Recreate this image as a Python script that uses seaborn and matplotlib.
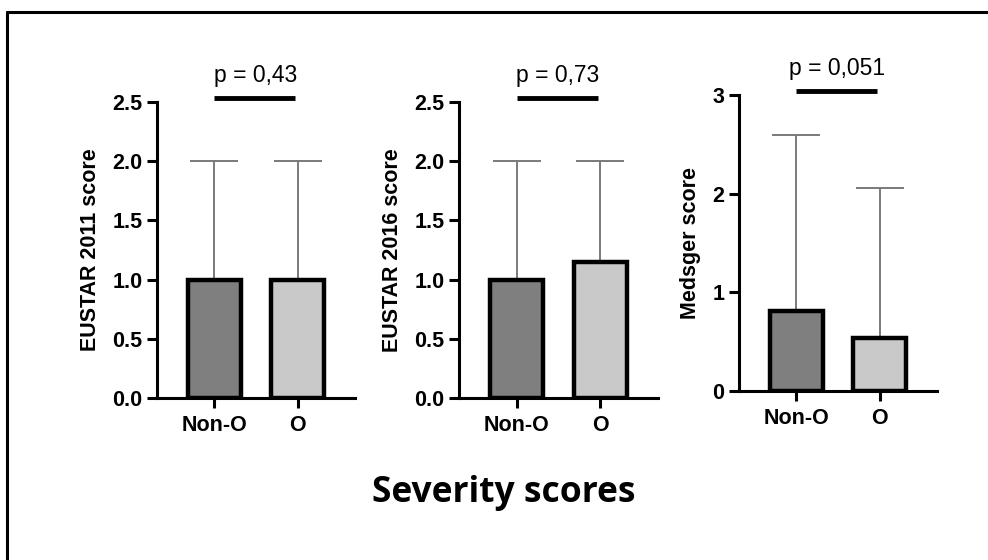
import pandas as pd
import matplotlib.pyplot as plt
import seaborn as sns
from matplotlib.lines import Line2D

# data
groups = ['Non-O', 'O']
eustar2011_mean = [1.0, 1.0]
eustar2011_err = [1.0, 1.0]
eustar2016_mean = [1.0, 1.15]
eustar2016_err = [1.0, 0.85]
medsger_mean = [0.81, 0.54]
medsger_err = [1.78, 1.52]
ylabels = ['EUSTAR 2011 score', 'EUSTAR 2016 score', 'Medsger score']
pvalues = ['p = 0,43', 'p = 0,73', 'p = 0,051']
ymax = [2.5, 2.5, 3]
yticks = [[0, 0.5, 1.0, 1.5, 2.0, 2.5], [0, 0.5, 1.0, 1.5, 2.0, 2.5], [0, 1, 2, 3]]
yticklabels = [['0.0', '0.5', '1.0', '1.5', '2.0', '2.5'],
               ['0.0', '0.5', '1.0', '1.5', '2.0', '2.5'],
               ['0', '1', '2', '3']]

means = [eustar2011_mean, eustar2016_mean, medsger_mean]
errs = [eustar2011_err, eustar2016_err, medsger_err]

sns.set_style('white')
plt.rcParams['font.family'] = ['Liberation Sans', 'DejaVu Sans']
plt.rcParams['text.color'] = 'black'
plt.rcParams['axes.labelcolor'] = 'black'

fig = plt.figure(figsize=(9.88, 5.6), dpi=100)

# axes positions (left, bottom, width, height) in figure fraction
positions = [
    [157 / 988, 1 - 398 / 560, 198 / 988, 296 / 560],
    [459 / 988, 1 - 398 / 560, 199 / 988, 296 / 560],
    [739 / 988, 1 - 391 / 560, 198 / 988, 296 / 560],
]
colors = ['#7f7f7f', '#c9c9c9']

for i in range(3):
    ax = fig.add_axes(positions[i])
    df = pd.DataFrame({'group': groups, 'score': means[i]})
    sns.barplot(data=df, x='group', y='score', hue='group', palette=colors,
                width=0.64, edgecolor='black', linewidth=3.2, errorbar=None,
                legend=False, ax=ax, zorder=3)
    # upper error bars only
    ax.errorbar([0, 1], means[i], yerr=[[0, 0], errs[i]], fmt='none',
                ecolor='#7a7a7a', elinewidth=1.4, capsize=17, capthick=1.4, zorder=2)

    ax.set_xlim(-0.69, 1.69)
    ax.set_ylim(0, ymax[i])
    ax.set_yticks(yticks[i])
    ax.set_yticklabels(yticklabels[i])
    ax.set_xlabel('')
    ax.set_ylabel(ylabels[i], fontsize=15.5, fontweight='bold', labelpad=8)

    sns.despine(ax=ax)
    for side in ['left', 'bottom']:
        ax.spines[side].set_linewidth(2.2)
        ax.spines[side].set_color('black')
    ax.tick_params(axis='both', direction='out', length=7, width=2.2,
                   colors='black', labelsize=15.5, bottom=True, left=True)
    ax.tick_params(axis='x', pad=5)
    for lab in ax.get_xticklabels() + ax.get_yticklabels():
        lab.set_fontweight('bold')

    # significance line and p-value
    top = ymax[i]
    ax.plot([0.0, 0.97], [top * 1.012, top * 1.012], color='black', lw=3.5,
            solid_capstyle='butt', clip_on=False)
    ax.text(0.49, top * 1.05, pvalues[i], ha='center', va='bottom', fontsize=16.5)

fig.text(0.51, 0.12, 'Severity scores', ha='center', va='center',
         fontsize=25.5, fontweight='bold', family=['Open Sans', 'DejaVu Sans'])

# frame lines at top and left of the picture
fig.add_artist(Line2D([7 / 988, 1], [1 - 12 / 560, 1 - 12 / 560], color='black', lw=2.2))
fig.add_artist(Line2D([7 / 988, 7 / 988], [0, 1 - 12 / 560], color='black', lw=2.2))

fig.savefig('out.png', dpi=100)
